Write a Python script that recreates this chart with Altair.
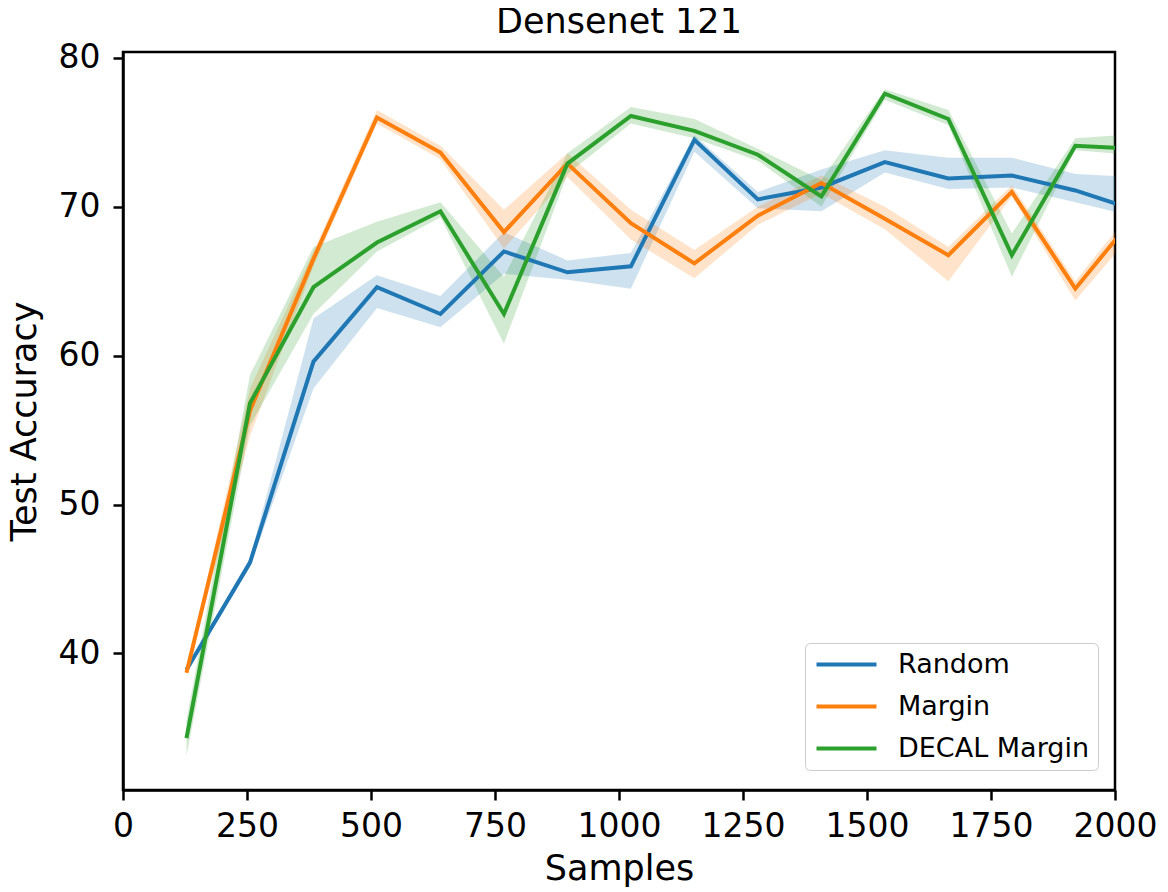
import altair as alt
import pandas as pd

samples = [128, 256, 384, 512, 640, 768, 896, 1024, 1152, 1280, 1408, 1536, 1664, 1792, 1920, 2048]

random_mean = [38.9, 46.1, 59.6, 64.6, 62.8, 67.0, 65.6, 66.0, 74.5, 70.5, 71.3, 73.0, 71.9, 72.1, 71.1, 69.7]
random_lo = [38.7, 45.8, 57.8, 63.2, 61.9, 65.5, 65.1, 64.5, 73.7, 69.9, 69.7, 72.3, 71.2, 71.3, 70.3, 69.3]
random_hi = [39.1, 46.4, 62.5, 65.4, 64.0, 68.3, 66.4, 66.9, 74.8, 71.0, 72.5, 73.8, 73.3, 73.3, 72.2, 72.0]

margin_mean = [38.7, 56.3, 66.5, 76.0, 73.65, 68.3, 72.9, 68.9, 66.2, 69.4, 71.6, 69.2, 66.75, 71.0, 64.5, 69.7]
margin_lo = [38.6, 54.6, 66.0, 75.6, 73.2, 67.2, 72.0, 67.8, 65.2, 68.8, 70.9, 68.5, 65.0, 70.7, 63.7, 68.7]
margin_hi = [38.8, 57.8, 67.0, 76.5, 74.1, 69.8, 73.6, 69.8, 67.1, 70.0, 72.1, 70.0, 67.3, 71.45, 65.0, 70.3]

decal_mean = [34.3, 56.8, 64.6, 67.6, 69.7, 62.8, 72.9, 76.1, 75.1, 73.5, 70.7, 77.6, 75.9, 66.75, 74.1, 73.9]
decal_lo = [33.1, 55.3, 62.8, 67.0, 69.3, 60.8, 72.2, 75.6, 74.6, 73.1, 70.0, 77.2, 75.5, 65.3, 73.8, 73.45]
decal_hi = [35.5, 58.7, 67.3, 69.0, 70.3, 65.3, 73.6, 76.7, 75.9, 73.9, 71.8, 77.9, 76.5, 68.2, 74.6, 74.9]

series_names = ["Random", "Margin", "DECAL Margin"]
series_colors = ["#1f77b4", "#ff7f0e", "#2ca02c"]
x_ticks = [0, 250, 500, 750, 1000, 1250, 1500, 1750, 2000]
y_ticks = [40, 50, 60, 70, 80]

rows = []
for name, m, lo, hi in [
    ("Random", random_mean, random_lo, random_hi),
    ("Margin", margin_mean, margin_lo, margin_hi),
    ("DECAL Margin", decal_mean, decal_lo, decal_hi),
]:
    for s, a, b, c in zip(samples, m, lo, hi):
        rows.append({"Samples": s, "Series": name, "Acc": a, "Lo": b, "Hi": c})
df = pd.DataFrame(rows)

FONT = "DejaVu Sans"

x_enc = alt.X(
    "Samples:Q",
    scale=alt.Scale(domain=[0, 2000], nice=False, zero=False),
    axis=alt.Axis(
        values=x_ticks, title="Samples", format="d", labelOverlap=False,
        labelFlush=False, labelPadding=10, titlePadding=8,
    ),
)
y_scale = alt.Scale(domain=[30.82, 80.4], nice=False, zero=False)
y_axis = alt.Axis(values=y_ticks, title="Test Accuracy", format="d", labelOverlap=False,
                  labelFlush=False, labelPadding=13, titlePadding=16)

legend = alt.Legend(
    title=None,
    orient="none",
    legendX=682,
    legendY=591,
    symbolType="M-1,0H5",
    symbolSize=400,
    symbolStrokeWidth=4,
    symbolOpacity=1,
    symbolFillColor="transparent",
    labelFontSize=27,
    labelFont=FONT,
    labelColor="black",
    labelLimit=500,
    padding=8,
    rowPadding=14,
    labelOffset=58,
    fillColor="white",
    strokeColor="#cccccc",
    cornerRadius=5,
)
color_enc = alt.Color(
    "Series:N",
    scale=alt.Scale(domain=series_names, range=series_colors),
    sort=series_names,
    legend=legend,
)

band = alt.Chart(df).mark_area(opacity=0.22, clip=True).encode(
    x=x_enc,
    y=alt.Y("Lo:Q", scale=y_scale, axis=y_axis),
    y2="Hi:Q",
    color=color_enc,
)

lines = alt.Chart(df).mark_line(strokeWidth=4, clip=True).encode(
    x=x_enc,
    y=alt.Y("Acc:Q", scale=y_scale, axis=y_axis),
    color=color_enc,
)

chart = (
    alt.layer(band, lines)
    .properties(
        width=992,
        height=738,
        title=alt.TitleParams(
            "Densenet 121",
            fontSize=35,
            font=FONT,
            fontWeight="normal",
            color="black",
            anchor="middle",
            baseline="bottom",
            offset=-33,
        ),
        autosize=alt.AutoSizeParams(type="none"),
        padding={"left": 115, "top": 44, "right": 45, "bottom": 100},
    )
    .configure_view(stroke="black", strokeWidth=2.5)
    .configure_axis(
        domainColor="black",
        domainWidth=2.5,
        tickColor="black",
        tickWidth=2.5,
        tickSize=10,
        labelFont=FONT,
        labelFontSize=33,
        labelColor="black",
        titleFont=FONT,
        titleFontSize=35,
        titleFontWeight="normal",
        titleColor="black",
        grid=False,
    )
)

chart.save("out.html", embed_options={"renderer": "svg", "actions": False})
